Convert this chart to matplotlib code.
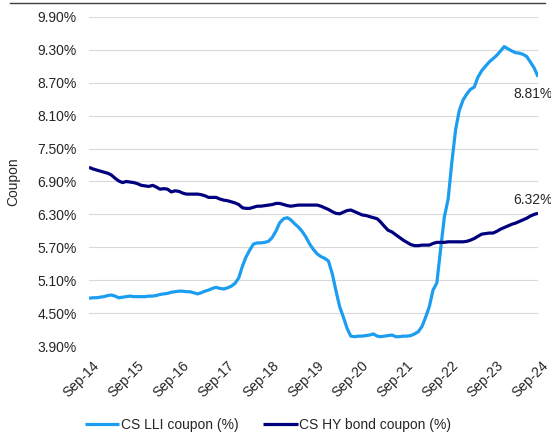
# CS LLI vs CS HY bond coupon, monthly Sep-14 to Sep-24

import numpy as np
import pandas as pd
import matplotlib
matplotlib.use('Agg')
import matplotlib.pyplot as plt
import matplotlib.dates as mdates
from matplotlib.lines import Line2D
from matplotlib.transforms import ScaledTranslation

plt.rcParams['font.family'] = ['Liberation Sans', 'DejaVu Sans']
plt.rcParams['font.size'] = 10

dates = pd.date_range('2014-09-01', periods=121, freq='MS')

# CS LLI coupon (%)
lli_coupon = [
    4.77, 4.78, 4.78, 4.79, 4.80, 4.82, 4.83, 4.81, 4.78, 4.79, 4.80, 4.81,
    4.80, 4.80, 4.80, 4.80, 4.81, 4.81, 4.82, 4.84, 4.85, 4.86, 4.88, 4.89,
    4.90, 4.90, 4.89, 4.89, 4.87, 4.85, 4.87, 4.90, 4.92, 4.95, 4.97, 4.95,
    4.94, 4.96, 4.99, 5.04, 5.14, 5.36, 5.52, 5.65, 5.76, 5.78, 5.78, 5.79,
    5.81, 5.88, 6.00, 6.15, 6.22, 6.24, 6.20, 6.13, 6.07, 5.99, 5.89, 5.76,
    5.66, 5.58, 5.53, 5.50, 5.45, 5.22, 4.92, 4.62, 4.43, 4.22, 4.08, 4.07,
    4.08, 4.08, 4.09, 4.10, 4.12, 4.08, 4.07, 4.08, 4.09, 4.10, 4.07, 4.07,
    4.08, 4.08, 4.09, 4.12, 4.16, 4.26, 4.42, 4.62, 4.92, 5.05, 5.65, 6.25,
    6.58, 7.25, 7.85, 8.20, 8.39, 8.50, 8.58, 8.62, 8.80, 8.92, 9.00, 9.08,
    9.14, 9.20, 9.28, 9.36, 9.32, 9.28, 9.25, 9.24, 9.22, 9.18, 9.08, 8.97,
    8.81,
]

# CS HY bond coupon (%)
hy_coupon = [
    7.16, 7.13, 7.11, 7.09, 7.07, 7.05, 7.02, 6.96, 6.91, 6.88, 6.90, 6.89,
    6.88, 6.86, 6.83, 6.82, 6.81, 6.83, 6.80, 6.76, 6.77, 6.76, 6.71, 6.73,
    6.72, 6.69, 6.67, 6.67, 6.67, 6.67, 6.66, 6.64, 6.61, 6.61, 6.61, 6.58,
    6.56, 6.55, 6.53, 6.51, 6.48, 6.42, 6.41, 6.41, 6.43, 6.45, 6.45, 6.46,
    6.47, 6.48, 6.50, 6.50, 6.48, 6.46, 6.45, 6.46, 6.47, 6.47, 6.47, 6.47,
    6.47, 6.47, 6.45, 6.42, 6.39, 6.35, 6.32, 6.31, 6.34, 6.37, 6.38, 6.35,
    6.32, 6.29, 6.28, 6.26, 6.24, 6.22, 6.16, 6.08, 6.01, 5.98, 5.93, 5.88,
    5.83, 5.79, 5.75, 5.73, 5.73, 5.74, 5.74, 5.74, 5.77, 5.79, 5.79, 5.79,
    5.80, 5.80, 5.80, 5.80, 5.80, 5.81, 5.83, 5.86, 5.90, 5.94, 5.95, 5.96,
    5.96, 5.99, 6.03, 6.06, 6.09, 6.12, 6.14, 6.17, 6.20, 6.23, 6.27, 6.30,
    6.32,
]

y_ticks = [3.90, 4.50, 5.10, 5.70, 6.30, 6.90, 7.50, 8.10, 8.70, 9.30, 9.90]

LLI_COLOR = '#1b9df0'
HY_COLOR = '#00007f'

fig = plt.figure(figsize=(5.51, 4.37), dpi=100)
ax = fig.add_axes([89 / 551, 1 - 346 / 437, 449 / 551, 329 / 437])

ax.plot(dates, lli_coupon, color=LLI_COLOR, lw=2.3, label='CS LLI coupon (%)', solid_capstyle='butt')
ax.plot(dates, hy_coupon, color=HY_COLOR, lw=2.3, label='CS HY bond coupon (%)', solid_capstyle='butt')

ax.set_ylim(3.90, 9.90)
ax.set_xlim(dates[0], dates[-1])
ax.set_yticks(y_ticks)
ax.set_yticklabels(['%.2f%%' % v for v in y_ticks])
ax.grid(axis='y', color='#d9d9d9', lw=0.8)
ax.set_axisbelow(True)
for s in ax.spines.values():
    s.set_visible(False)

ax.xaxis.set_major_locator(mdates.MonthLocator(bymonth=9))
ax.xaxis.set_major_formatter(mdates.DateFormatter('%b-%y'))
ax.tick_params(axis='both', length=0, colors='#262626', labelsize=10)
ax.tick_params(axis='y', pad=9)
ax.tick_params(axis='x', pad=9)
for lab in ax.get_xticklabels():
    lab.set_rotation(45)
    lab.set_ha('right')
    lab.set_va('top')
    lab.set_rotation_mode('anchor')
    lab.set_transform(lab.get_transform() + ScaledTranslation(3 / 100, 0, fig.dpi_scale_trans))

ax.set_ylabel('Coupon', color='#262626', va='center')
ax.yaxis.set_label_coords((13 - 89) / 449, 0.5)

# end-point labels
ax.annotate('%.2f%%' % lli_coupon[-1], xy=(dates[-1], lli_coupon[-1]), xytext=(-25, -17),
            textcoords='offset pixels', ha='left', va='center', color='#262626', annotation_clip=False)
ax.annotate('%.2f%%' % hy_coupon[-1], xy=(dates[-1], hy_coupon[-1]), xytext=(-25, 13),
            textcoords='offset pixels', ha='left', va='center', color='#262626', annotation_clip=False)

fig.legend(loc='center', bbox_to_anchor=(268 / 551, 1 - 425 / 437), ncol=2, frameon=False,
           handlelength=2.5, handletextpad=0.1, columnspacing=1.8, fontsize=10,
           labelcolor='#262626')

# thin rule across the top
fig.add_artist(Line2D([10 / 551, 545 / 551], [1 - 3 / 437, 1 - 3 / 437], color='#404040', lw=1))

fig.savefig('out.png', dpi=100)
